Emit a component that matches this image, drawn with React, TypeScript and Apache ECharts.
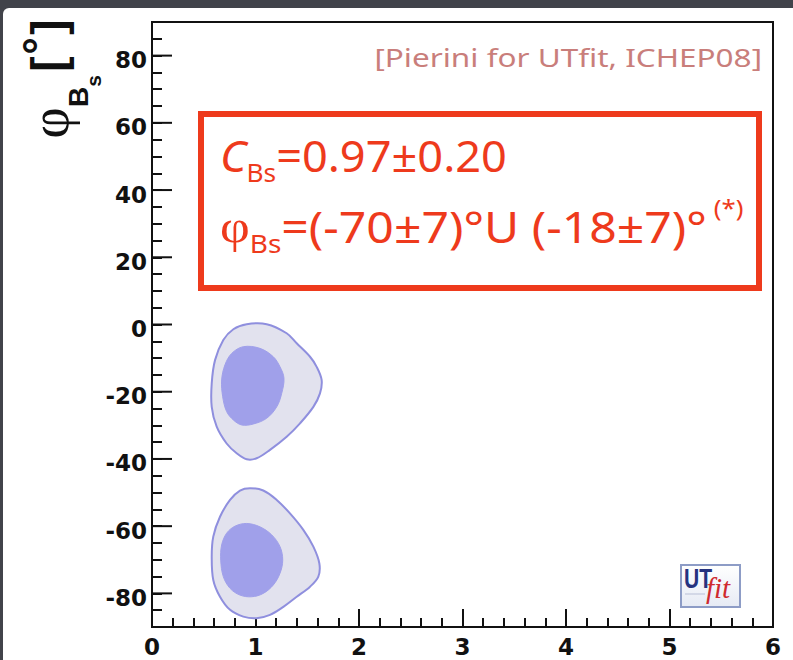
import React, { useEffect, useRef } from "react";
import * as echarts from "echarts";

// ---- axes ----
const xTicks = [0, 1, 2, 3, 4, 5, 6];
const yTicks = [-80, -60, -40, -20, 0, 20, 40, 60, 80];
const xLimits = [0, 6];
const yLimits = [-90, 90];

// ---- probability regions (C_Bs, phi_Bs [deg]) ----
// solution near phi = -18 deg
const outerUpper: number[][] = [
  [0.786, -1.4], [0.915, 0.1], [1.108, 0.1], [1.301, -2.6], [1.398, -5.6],
  [1.527, -9.6], [1.591, -12.6], [1.639, -16.5], [1.623, -20.5], [1.559, -24.5],
  [1.43, -29.4], [1.301, -33.4], [1.14, -37.3], [1.011, -39.8], [0.915, -40.1],
  [0.818, -38.3], [0.721, -35.4], [0.625, -30.4], [0.577, -24.5], [0.577, -17.5],
  [0.609, -10.6], [0.689, -4.6],
];
const innerUpper: number[][] = [
  [0.77, -8.6], [0.882, -6.6], [1.043, -7.1], [1.172, -9.6], [1.237, -12.6],
  [1.275, -16.0], [1.253, -20.5], [1.205, -24.5], [1.108, -27.9], [0.979, -29.6],
  [0.867, -29.9], [0.786, -28.4], [0.721, -25.9], [0.683, -21.5], [0.673, -16.5],
  [0.705, -12.0],
];
// solution near phi = -70 deg
const outerLower: number[][] = [
  [0.85, -49.4], [0.947, -48.7], [1.075, -49.4], [1.205, -52.2], [1.333, -56.2],
  [1.462, -61.1], [1.559, -66.1], [1.617, -71.1], [1.607, -75.0], [1.527, -78.0],
  [1.398, -81.0], [1.269, -84.0], [1.14, -86.4], [1.011, -87.4], [0.882, -86.9],
  [0.754, -84.9], [0.657, -81.0], [0.592, -76.0], [0.577, -69.1], [0.592, -63.1],
  [0.657, -57.2], [0.754, -52.2],
];
const innerLower: number[][] = [
  [0.802, -60.0], [0.915, -59.2], [1.043, -60.2], [1.157, -62.6], [1.237, -66.1],
  [1.263, -70.1], [1.237, -74.0], [1.172, -77.5], [1.075, -80.0], [0.963, -81.0],
  [0.85, -80.5], [0.754, -78.5], [0.689, -75.0], [0.664, -70.1], [0.673, -65.6],
  [0.721, -62.1],
];

// ---- texts ----
const creditText = "[Pierini for UTfit, ICHEP08]";
const resultLine1 = "{ci|C}{sub1|Bs}{m|=0.97±0.20}";
const resultLine2 = "{phi|φ}{sub2|Bs}{m|=(-70±7)°U (-18±7)°}{sup| (*)}";

const RED = "#ee3a1c";
const INK = "#111111";
const OUTER_FILL = "#e2e2ee";
const OUTER_STROKE = "#8f8fde";
const INNER_FILL = "#a0a0ea";

function contour(name: string, pts: number[][], fill: string, stroke: string, lw: number, z: number) {
  return {
    type: "custom",
    name,
    coordinateSystem: "cartesian2d",
    xAxisIndex: 0,
    yAxisIndex: 0,
    data: pts,
    silent: true,
    clip: false,
    z,
    renderItem: (params: any, api: any) => {
      if (params.dataIndex !== 0) return null;
      const points = pts.map((p) => api.coord(p));
      return {
        type: "polygon",
        shape: { points, smooth: 0.35 },
        style: { fill, stroke, lineWidth: lw },
      };
    },
  };
}

const tickFont = {
  fontFamily: "DejaVu Sans",
  fontWeight: "bold" as const,
  fontSize: 23,
  color: INK,
};

export default function App() {
  const ref = useRef<HTMLDivElement>(null);

  useEffect(() => {
    const chart = echarts.init(ref.current!, null, { renderer: "svg" });
    const option: any = {
      animation: false,
      backgroundColor: "transparent",
      grid: {
        left: 152,
        top: 22,
        width: 621,
        height: 605,
        show: true,
        borderColor: INK,
        borderWidth: 2,
        backgroundColor: "transparent",
      },
      xAxis: {
        type: "value",
        min: xLimits[0],
        max: xLimits[1],
        interval: 1,
        axisLine: { show: true, onZero: false, lineStyle: { color: INK, width: 2 } },
        axisTick: { show: true, inside: true, length: 18, lineStyle: { color: INK, width: 2 } },
        minorTick: { show: true, splitNumber: 5, length: 9, lineStyle: { color: INK, width: 2 } },
        splitLine: { show: false },
        minorSplitLine: { show: false },
        axisLabel: {
          ...tickFont,
          customValues: xTicks,
          margin: 8,
          showMinLabel: true,
          showMaxLabel: true,
          hideOverlap: false,
        },
      },
      yAxis: [
        {
          type: "value",
          min: yLimits[0],
          max: yLimits[1],
          interval: 5,
          position: "left",
          axisLine: { show: true, onZero: false, lineStyle: { color: INK, width: 2 } },
          axisTick: { show: true, inside: true, length: 10, lineStyle: { color: INK, width: 2 } },
          axisLabel: {
            ...tickFont,
            customValues: yTicks,
            margin: 5,
            verticalAlign: "top",
            lineHeight: 9,
            formatter: (v: number) => (v % 20 === 0 && Math.abs(v) <= 80 ? String(v) : ""),
            showMinLabel: true,
            showMaxLabel: true,
            hideOverlap: false,
          },
          splitLine: { show: false },
        },
      ],
      series: [
        contour("outer -18", outerUpper, OUTER_FILL, OUTER_STROKE, 2, 2),
        contour("inner -18", innerUpper, INNER_FILL, INNER_FILL, 1, 3),
        contour("outer -70", outerLower, OUTER_FILL, OUTER_STROKE, 2, 2),
        contour("inner -70", innerLower, INNER_FILL, INNER_FILL, 1, 3),
        {
          type: "custom",
          name: "major y ticks",
          coordinateSystem: "cartesian2d",
          data: yTicks.map((v) => [xLimits[0], v]),
          silent: true,
          clip: false,
          z: 5,
          renderItem: (params: any, api: any) => {
            const p = api.coord([api.value(0), api.value(1)]);
            return {
              type: "line",
              shape: { x1: p[0], y1: p[1], x2: p[0] + 20, y2: p[1] },
              style: { stroke: INK, lineWidth: 2 },
            };
          },
        },
      ],
      graphic: [
        // y-axis title: phi_Bs [deg], rotated
        {
          type: "group",
          x: 52,
          y: 137,
          rotation: Math.PI / 2,
          children: [
            {
              type: "text", x: 14, y: -2,
              style: { text: "φ", fontFamily: "Liberation Serif", fontSize: 54, fill: INK, align: "center", verticalAlign: "middle" },
            },
            {
              type: "text", x: 40, y: 26.4,
              style: { text: "B", fontFamily: "Liberation Sans", fontWeight: "bold", fontSize: 28, fill: INK, align: "center", verticalAlign: "middle" },
            },
            {
              type: "text", x: 56, y: 41,
              style: { text: "s", fontFamily: "Liberation Sans", fontWeight: "bold", fontSize: 21, fill: INK, align: "center", verticalAlign: "middle" },
            },
            {
              type: "text", x: 73, y: -4.2,
              style: { text: "[", fontFamily: "Liberation Sans", fontWeight: "bold", fontSize: 46, fill: INK, align: "center", verticalAlign: "middle" },
            },
            {
              type: "text", x: 91, y: -14,
              style: { text: "°", fontFamily: "Liberation Sans", fontWeight: "bold", fontSize: 44, fill: INK, align: "center", verticalAlign: "middle" },
            },
            {
              type: "text", x: 110, y: -4.2,
              style: { text: "]", fontFamily: "Liberation Sans", fontWeight: "bold", fontSize: 46, fill: INK, align: "center", verticalAlign: "middle" },
            },
          ],
        },
        // credit
        {
          type: "text",
          x: 762,
          y: 57.3,
          scaleX: 1.26,
          style: {
            text: creditText,
            fontFamily: "Noto Sans",
            fontSize: 25,
            fill: "#c97e7b",
            align: "right",
            verticalAlign: "middle",
          },
        },
        // result box
        {
          type: "rect",
          shape: { x: 201, y: 114, width: 558, height: 174 },
          style: { fill: "rgba(255,255,255,0)", stroke: RED, lineWidth: 6 },
          z: 10,
        },
        {
          type: "text",
          x: 220,
          y: 125.3,
          z: 10,
          scaleX: 1.05,
          style: {
            text: resultLine1,
            align: "left",
            verticalAlign: "top",
            rich: {
              m: { fontFamily: "Noto Sans", fontSize: 43, fill: RED, lineHeight: 60, verticalAlign: "middle" },
              ci: { fontFamily: "Noto Sans", fontStyle: "italic", fontSize: 43, fill: RED, lineHeight: 60, verticalAlign: "middle" },
              sub1: { fontFamily: "Noto Sans", fontSize: 25, fill: RED, lineHeight: 16, verticalAlign: "bottom" },
            },
          },
        },
        {
          type: "text",
          x: 220,
          y: 196.3,
          z: 10,
          scaleX: 1.12,
          style: {
            text: resultLine2,
            align: "left",
            verticalAlign: "top",
            rich: {
              m: { fontFamily: "Noto Sans", fontSize: 43, fill: RED, lineHeight: 60, verticalAlign: "middle" },
              phi: { fontFamily: "Liberation Serif", fontSize: 46, fill: RED, lineHeight: 60, verticalAlign: "middle" },
              sub2: { fontFamily: "Noto Sans", fontSize: 25, fill: RED, lineHeight: 8, verticalAlign: "bottom" },
              sup: { fontFamily: "Noto Sans", fontSize: 23, fill: RED, lineHeight: 45, verticalAlign: "top" },
            },
          },
        },
        // UTfit logo
        {
          type: "group",
          z: 10,
          children: [
            {
              type: "rect",
              shape: { x: 681, y: 565, width: 59, height: 42 },
              style: {
                fill: new echarts.graphic.LinearGradient(0, 0, 0, 1, [
                  { offset: 0, color: "#ffffff" },
                  { offset: 1, color: "#e6eaf4" },
                ]),
                stroke: "#8d9cc6",
                lineWidth: 2,
              },
            },
            {
              type: "text",
              x: 684,
              y: 579,
              scaleX: 0.78,
              style: { text: "UT", fontFamily: "Liberation Sans", fontWeight: "bold", fontSize: 27, fill: "#26337f", align: "left", verticalAlign: "middle" },
            },
            {
              type: "line",
              shape: { x1: 685, y1: 594, x2: 705, y2: 594 },
              style: { stroke: "#b9bfd6", lineWidth: 1 },
            },
            {
              type: "text",
              x: 706,
              y: 588,
              style: { text: "fit", fontFamily: "Liberation Serif", fontStyle: "italic", fontSize: 29, fill: "#cf2a2e", align: "left", verticalAlign: "middle" },
            },
          ],
        },
      ],
    };
    chart.setOption(option);
    return () => chart.dispose();
  }, []);

  return (
    <div
      style={{
        position: "fixed",
        left: 0,
        top: 0,
        width: 793,
        height: 660,
        background: "#41434a",
        overflow: "hidden",
      }}
    >
      <div
        style={{
          position: "absolute",
          left: 3,
          top: 8,
          width: 790,
          height: 652,
          background: "#ffffff",
          borderTopLeftRadius: 6,
        }}
      />
      <div ref={ref} style={{ position: "absolute", left: 0, top: 0, width: 793, height: 660 }} />
    </div>
  );
}
